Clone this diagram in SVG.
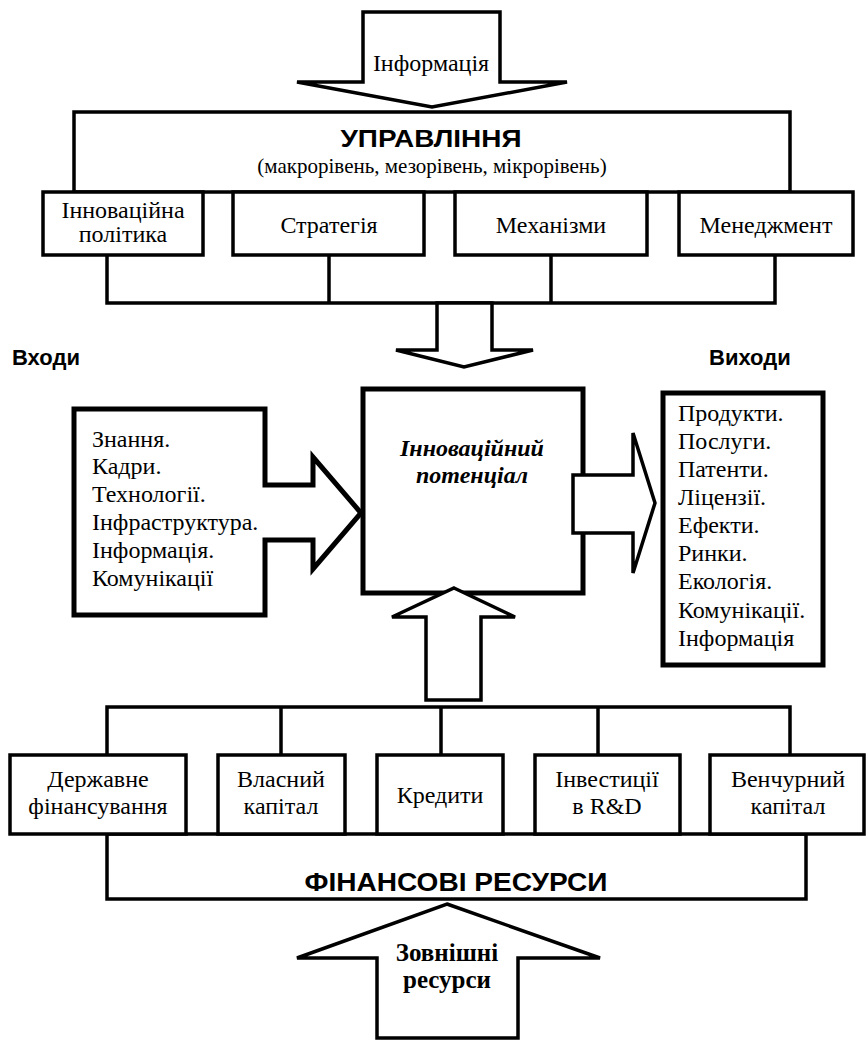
<svg xmlns="http://www.w3.org/2000/svg" width="866" height="1040" viewBox="0 0 866 1040">
<style>
.box{fill:#fff;stroke:#000;stroke-width:3.5}
.thick{fill:#fff;stroke:#000;stroke-width:5;stroke-linejoin:miter}
.arrow{fill:#fff;stroke:#000;stroke-width:3.5;stroke-linejoin:miter}
.line{fill:none;stroke:#000;stroke-width:3.5}
.t{font-family:"Liberation Serif","Times New Roman",serif;font-size:24px;fill:#000}
.c{text-anchor:middle}
.sub{font-family:"Liberation Serif","Times New Roman",serif;font-size:21px;fill:#000;text-anchor:middle}
.h{font-family:"Liberation Sans",Arial,sans-serif;font-weight:bold;fill:#000}
.bi{font-family:"Liberation Serif","Times New Roman",serif;font-size:24px;font-weight:bold;font-style:italic;fill:#000;text-anchor:middle}
.b{font-family:"Liberation Serif","Times New Roman",serif;font-size:25px;font-weight:bold;fill:#000;text-anchor:middle}
</style>
<rect width="866" height="1040" fill="#fff"/>

<g id="connectors">
  <polyline class="line" points="107,255 107,303 775,303 775,255"/>
  <line class="line" x1="329" y1="255" x2="329" y2="303"/>
  <line class="line" x1="551" y1="255" x2="551" y2="303"/>
  <polyline class="line" points="107,755 107,707 790,707 790,755"/>
  <line class="line" x1="281" y1="707" x2="281" y2="755"/>
  <line class="line" x1="441" y1="707" x2="441" y2="755"/>
  <line class="line" x1="598" y1="707" x2="598" y2="755"/>
</g>

<g id="arrow-info">
  <polygon class="arrow" points="363,12 500,12 500,82 567,82 432,107 297,82 363,82"/>
  <text class="t c" x="431" y="71" font-size="25">Інформація</text>
</g>

<g id="upravlinnia">
  <rect class="box" x="74" y="112" width="716" height="80"/>
  <text class="h c" x="431" y="147" font-size="24" textLength="181" lengthAdjust="spacingAndGlyphs">УПРАВЛІННЯ</text>
  <text class="sub" x="432" y="173">(макрорівень, мезорівень, мікрорівень)</text>
</g>

<g id="policy">
  <rect class="box" x="43" y="192" width="160" height="63"/>
  <text class="t c" x="123" y="218">Інноваційна</text>
  <text class="t c" x="123" y="242">політика</text>
</g>
<g id="strategy">
  <rect class="box" x="233" y="192" width="191" height="63"/>
  <text class="t c" x="329" y="233">Стратегія</text>
</g>
<g id="mechanisms">
  <rect class="box" x="455" y="192" width="192" height="63"/>
  <text class="t c" x="551" y="233">Механізми</text>
</g>
<g id="management">
  <rect class="box" x="679" y="192" width="174" height="63"/>
  <text class="t c" x="766" y="233">Менеджмент</text>
</g>

<g id="arrow-down-mid">
  <polygon class="arrow" points="437,303 492,303 492,350 533,350 464,367 396,350 437,350"/>
</g>

<g id="labels">
  <text class="h" x="12" y="365" font-size="22">Входи</text>
  <text class="h" x="709" y="365" font-size="22">Виходи</text>
</g>

<g id="potential">
  <rect class="thick" x="363" y="389" width="220" height="204" stroke-width="4.5"/>
  <text class="bi" x="472" y="456">Інноваційний</text>
  <text class="bi" x="472" y="483">потенціал</text>
</g>

<g id="inputs">
  <path class="thick" d="M74,409 H265 V485 H313 V457 L361,513 L313,569 V540 H265 V615 H74 Z"/>
  <text class="t" x="92" y="447">Знання.</text>
  <text class="t" x="92" y="474">Кадри.</text>
  <text class="t" x="92" y="502">Технології.</text>
  <text class="t" x="92" y="530">Інфраструктура.</text>
  <text class="t" x="92" y="558">Інформація.</text>
  <text class="t" x="92" y="586">Комунікації</text>
</g>

<g id="arrow-out">
  <polygon class="arrow" points="573,475 633,475 633,433 655,503 633,573 633,533 573,533" stroke-width="4.5"/>
</g>

<g id="outputs">
  <rect class="thick" x="663" y="393" width="160" height="272"/>
  <text class="t" x="678" y="421">Продукти.</text>
  <text class="t" x="678" y="449">Послуги.</text>
  <text class="t" x="678" y="477">Патенти.</text>
  <text class="t" x="678" y="505">Ліцензії.</text>
  <text class="t" x="678" y="533">Ефекти.</text>
  <text class="t" x="678" y="561">Ринки.</text>
  <text class="t" x="678" y="589">Екологія.</text>
  <text class="t" x="678" y="618">Комунікації.</text>
  <text class="t" x="678" y="646">Інформація</text>
</g>

<g id="arrow-up-mid">
  <polygon class="arrow" points="454,588 515,617 481,617 481,700 426,700 426,617 392,617"/>
</g>

<g id="finresources">
  <rect class="box" x="107" y="834" width="699" height="65"/>
  <text class="h c" x="456" y="891" font-size="25" textLength="303" lengthAdjust="spacingAndGlyphs">ФІНАНСОВІ РЕСУРСИ</text>
</g>

<g id="state">
  <rect class="box" x="10" y="755" width="176" height="79"/>
  <text class="t c" x="98" y="787">Державне</text>
  <text class="t c" x="98" y="814">фінансування</text>
</g>
<g id="own">
  <rect class="box" x="218" y="755" width="127" height="79"/>
  <text class="t c" x="281" y="787">Власний</text>
  <text class="t c" x="281" y="814">капітал</text>
</g>
<g id="credits">
  <rect class="box" x="377" y="755" width="126" height="79"/>
  <text class="t c" x="440" y="803">Кредити</text>
</g>
<g id="rnd">
  <rect class="box" x="535" y="755" width="145" height="79"/>
  <text class="t c" x="607" y="787">Інвестиції</text>
  <text class="t c" x="607" y="814">в R&amp;D</text>
</g>
<g id="venture">
  <rect class="box" x="710" y="755" width="154" height="79"/>
  <text class="t c" x="788" y="787">Венчурний</text>
  <text class="t c" x="788" y="814">капітал</text>
</g>

<g id="arrow-external">
  <polygon class="arrow" points="447,904 600,958 518,958 518,1038 377,1038 377,958 297,958"/>
  <text class="b" x="447" y="961">Зовнішні</text>
  <text class="b" x="447" y="988">ресурси</text>
</g>
</svg>
